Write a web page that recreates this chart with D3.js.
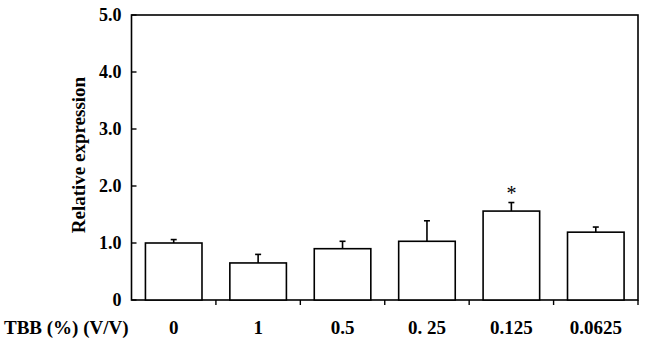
<!DOCTYPE html>
<html>
<head>
<meta charset="utf-8">
<script src="https://cdn.jsdelivr.net/npm/d3@7"></script>
<style>
  body { margin: 0; background: #fff; }
  text { font-family: "Liberation Serif", "Times New Roman", serif; font-weight: bold; fill: #000; }
</style>
</head>
<body>
<div id="chart"></div>
<script>
// data
const doses = ["0", "1", "0.5", "0. 25", "0.125", "0.0625"];
const expression = [1.00, 0.65, 0.90, 1.03, 1.56, 1.19];
const errUpper = [0.06, 0.15, 0.13, 0.36, 0.15, 0.09];
const significant = [false, false, false, false, true, false];
const yTicks = [0, 1, 2, 3, 4, 5];

const width = 646, height = 350;
const margin = { top: 15, right: 8, bottom: 50, left: 131.5 };

const svg = d3.select("#chart")
  .append("svg")
  .attr("width", width)
  .attr("height", height);

const x = d3.scaleBand()
  .domain(doses)
  .range([margin.left, width - margin.right])
  .paddingInner(0.33)
  .paddingOuter(0.165);

const y = d3.scaleLinear()
  .domain([0, 5])
  .range([height - margin.bottom, margin.top]);

// frame
svg.append("rect")
  .attr("x", margin.left)
  .attr("y", margin.top)
  .attr("width", width - margin.right - margin.left)
  .attr("height", y(0) - margin.top)
  .attr("fill", "none")
  .attr("stroke", "#000")
  .attr("stroke-width", 1.6);

// y axis ticks (inward) and labels
const yAxis = svg.append("g");
yAxis.selectAll("line")
  .data(yTicks)
  .enter()
  .append("line")
  .attr("x1", margin.left)
  .attr("x2", margin.left + 5)
  .attr("y1", d => y(d))
  .attr("y2", d => y(d))
  .attr("stroke", "#000")
  .attr("stroke-width", 1.4);
yAxis.selectAll("text")
  .data(yTicks)
  .enter()
  .append("text")
  .attr("x", margin.left - 10)
  .attr("y", d => y(d))
  .attr("dy", "0.35em")
  .attr("text-anchor", "end")
  .style("font-size", "18px")
  .text(d => d === 0 ? "0" : d.toFixed(1));

// x axis boundary ticks (downward)
const plotW = width - margin.right - margin.left;
svg.append("g").selectAll("line")
  .data(doses.map((d, i) => i + 1))
  .enter()
  .append("line")
  .attr("x1", i => margin.left + plotW / doses.length * i)
  .attr("x2", i => margin.left + plotW / doses.length * i)
  .attr("y1", y(0))
  .attr("y2", y(0) + 5)
  .attr("stroke", "#000")
  .attr("stroke-width", 1.4);

// category labels
svg.append("g").selectAll("text")
  .data(doses)
  .enter()
  .append("text")
  .attr("x", d => x(d) + x.bandwidth() / 2)
  .attr("y", 334)
  .attr("text-anchor", "middle")
  .style("font-size", "19px")
  .text(d => d);

svg.append("text")
  .attr("x", 4)
  .attr("y", 334)
  .style("font-size", "19px")
  .text("TBB (%) (V/V)");

// y label
svg.append("text")
  .attr("transform", "translate(85,155) rotate(-90)")
  .attr("text-anchor", "middle")
  .style("font-size", "19px")
  .text("Relative expression");

// error bars (upper only)
const eb = svg.append("g").attr("stroke", "#000").attr("stroke-width", 1.6);
doses.forEach((d, i) => {
  const cx = x(d) + x.bandwidth() / 2;
  eb.append("line")
    .attr("x1", cx).attr("x2", cx)
    .attr("y1", y(expression[i]))
    .attr("y2", y(expression[i] + errUpper[i]));
  eb.append("line")
    .attr("x1", cx - 3).attr("x2", cx + 3)
    .attr("y1", y(expression[i] + errUpper[i]))
    .attr("y2", y(expression[i] + errUpper[i]));
});

// bars
svg.append("g").selectAll("rect")
  .data(expression)
  .enter()
  .append("rect")
  .attr("x", (d, i) => x(doses[i]))
  .attr("y", d => y(d))
  .attr("width", x.bandwidth())
  .attr("height", d => y(0) - y(d))
  .attr("fill", "#fff")
  .attr("stroke", "#000")
  .attr("stroke-width", 1.6);

// significance marks
svg.append("g").selectAll("text")
  .data(doses.filter((d, i) => significant[i]))
  .enter()
  .append("text")
  .attr("x", d => x(d) + x.bandwidth() / 2)
  .attr("y", d => y(expression[doses.indexOf(d)] + errUpper[doses.indexOf(d)]) - 3)
  .attr("text-anchor", "middle")
  .style("font-size", "20px")
  .style("font-weight", "normal")
  .text("*");
</script>
</body>
</html>
